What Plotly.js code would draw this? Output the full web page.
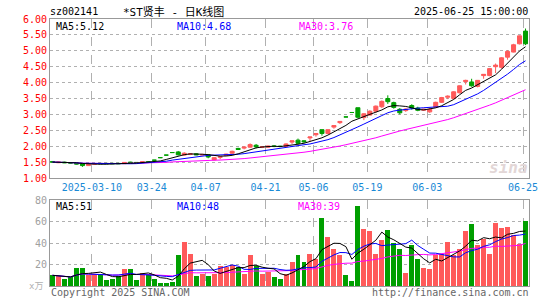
<!DOCTYPE html>
<html><head><meta charset="utf-8">
<script src="https://cdn.plot.ly/plotly-3.0.1.min.js"></script>
<style>html,body{margin:0;padding:0;background:#fff}</style>
</head><body><div id="chart" style="width:545px;height:300px"></div>
<script>
const dates = ['2025-02-27','2025-02-28','2025-03-03','2025-03-04','2025-03-05','2025-03-06','2025-03-07',
'2025-03-10','2025-03-11','2025-03-12','2025-03-13','2025-03-14','2025-03-17','2025-03-18','2025-03-19','2025-03-20','2025-03-21',
'2025-03-24','2025-03-25','2025-03-26','2025-03-27','2025-03-28','2025-03-31','2025-04-01','2025-04-02','2025-04-03',
'2025-04-07','2025-04-08','2025-04-09','2025-04-10','2025-04-11','2025-04-14','2025-04-15','2025-04-16','2025-04-17','2025-04-18',
'2025-04-21','2025-04-22','2025-04-23','2025-04-24','2025-04-25','2025-04-28','2025-04-29','2025-04-30',
'2025-05-06','2025-05-07','2025-05-08','2025-05-09','2025-05-12','2025-05-13','2025-05-14','2025-05-15','2025-05-16',
'2025-05-19','2025-05-20','2025-05-21','2025-05-22','2025-05-23','2025-05-26','2025-05-27','2025-05-28','2025-05-29','2025-05-30',
'2025-06-03','2025-06-04','2025-06-05','2025-06-06','2025-06-09','2025-06-10','2025-06-11','2025-06-12','2025-06-13',
'2025-06-16','2025-06-17','2025-06-18','2025-06-19','2025-06-20','2025-06-23','2025-06-24','2025-06-25'];

const openP = [1.52,1.48,1.50,1.48,1.47,1.45,1.39,1.43,1.46,1.46,
1.46,1.46,1.45,1.50,1.49,1.48,1.51,1.56,1.64,1.72,
1.80,1.82,1.72,1.74,1.76,1.72,1.73,1.57,1.65,1.71,
1.78,1.93,1.94,1.97,2.03,1.96,1.97,2.01,2.00,1.99,
2.13,2.19,2.17,2.26,2.36,2.52,2.40,2.60,2.74,2.92,
3.06,3.21,2.90,2.98,3.10,3.24,3.50,3.37,3.16,3.12,
3.28,3.20,3.13,3.08,3.23,3.38,3.54,3.50,3.68,4.03,
4.02,3.88,4.22,4.22,4.50,4.48,4.80,4.96,5.22,5.62];
const highP = [1.53,1.51,1.51,1.49,1.48,1.46,1.44,1.46,1.47,1.46,
1.47,1.47,1.50,1.51,1.49,1.53,1.52,1.56,1.64,1.72,
1.80,1.85,1.81,1.78,1.77,1.76,1.74,1.64,1.68,1.76,
1.86,1.95,1.98,2.09,2.07,2.00,2.02,2.03,2.02,2.09,
2.17,2.24,2.19,2.29,2.40,2.52,2.52,2.65,2.78,2.92,
3.06,3.21,3.04,3.13,3.28,3.44,3.60,3.40,3.20,3.19,
3.32,3.24,3.18,3.20,3.40,3.55,3.60,3.73,3.91,4.09,
4.12,4.08,4.27,4.46,4.60,4.80,5.02,5.22,5.48,5.70];
const lowP = [1.49,1.47,1.47,1.46,1.43,1.35,1.38,1.42,1.44,1.44,
1.44,1.44,1.45,1.47,1.47,1.47,1.48,1.56,1.64,1.72,
1.80,1.71,1.70,1.72,1.72,1.71,1.62,1.55,1.59,1.70,
1.76,1.88,1.90,1.95,1.93,1.94,1.95,1.97,1.97,1.98,
2.07,2.06,2.11,2.15,2.30,2.33,2.38,2.55,2.70,2.92,
3.06,2.88,2.82,2.96,3.05,3.20,3.33,3.18,3.00,3.08,
3.15,3.10,3.11,3.05,3.22,3.36,3.48,3.48,3.66,3.94,
3.87,3.85,4.12,4.20,4.30,4.44,4.72,4.95,5.20,5.18];
const closeP = [1.50,1.50,1.48,1.47,1.44,1.39,1.43,1.45,1.45,1.45,
1.45,1.45,1.49,1.48,1.48,1.51,1.49,1.56,1.64,1.72,
1.80,1.73,1.78,1.76,1.73,1.74,1.66,1.64,1.67,1.75,
1.84,1.90,1.97,2.05,1.98,1.98,2.00,1.99,1.99,2.07,
2.17,2.09,2.14,2.29,2.40,2.40,2.52,2.65,2.78,2.92,
3.06,2.91,3.02,3.10,3.26,3.41,3.40,3.22,3.05,3.17,
3.20,3.13,3.16,3.16,3.38,3.53,3.57,3.71,3.90,4.07,
3.90,4.07,4.26,4.44,4.55,4.78,4.98,5.19,5.47,5.22];
const volume = [10,9,7,8,17,17,10,11,10,6,
7,9,16,16,6,12,11,7,3,3,
4,29,41,30,9,11,9,11,19,18,
20,18,11,29,19,11,13,8,7,11,
22,29,22,30,25,64,46,35,29,10,
5,75,53,51,30,43,52,40,35,12,
38,25,17,16,29,30,41,29,35,51,
58,38,44,30,59,54,55,48,39,61];

const tickDates = ['2025-03-10','2025-03-24','2025-04-07','2025-04-21','2025-05-06','2025-05-19','2025-06-03','2025-06-25'];
const tickLabels = ['2025-03-10','03-24','04-07','04-21','05-06','05-19','06-03','06-25'];
const priceTicks = [1,1.5,2,2.5,3,3.5,4,4.5,5,5.5,6];
const volTicks = [20,40,60,80];

const RED = '#ff5a5a', GREEN = '#009f00';
const FONT = 'DejaVu Sans Mono, Noto Sans CJK SC, monospace';

const idx = dates.map((d, i) => i);
const isUp = idx.map(i => closeP[i] > openP[i]);
function ma(arr, n) {
  return arr.map((v, i) => {
    const s = Math.max(0, i - n + 1);
    let sum = 0;
    for (let k = s; k <= i; k++) sum += arr[k];
    return sum / (i - s + 1);
  });
}
function pick(arr, sel) { return idx.filter(i => sel(i)).map(i => arr[i]); }

function candle(sel, color) {
  return {
    type: 'candlestick', xaxis: 'x', yaxis: 'y',
    x: pick(idx, sel), open: pick(openP, sel), high: pick(highP, sel),
    low: pick(lowP, sel), close: pick(closeP, sel),
    whiskerwidth: 0,
    increasing: {line: {color: color, width: 1}, fillcolor: color},
    decreasing: {line: {color: color, width: 1}, fillcolor: color},
    hoverinfo: 'skip'
  };
}
function line(y, color, xa, ya) {
  return {type: 'scatter', mode: 'lines', x: idx, y: y, xaxis: xa, yaxis: ya,
    line: {color: color, width: 1}, hoverinfo: 'skip'};
}

const traces = [
  candle(i => isUp[i], RED),
  candle(i => !isUp[i], GREEN),
  line(ma(closeP, 30), '#ff00ff', 'x', 'y'),
  line(ma(closeP, 10), '#0000ff', 'x', 'y'),
  line(ma(closeP, 5), '#000000', 'x', 'y'),
  {type: 'bar', x: idx, y: volume, xaxis: 'x2', yaxis: 'y2', width: 0.83,
   marker: {color: idx.map(i => isUp[i] ? RED : GREEN), line: {width: 0}}, hoverinfo: 'skip'},
  line(ma(volume, 30), '#ff00ff', 'x2', 'y2'),
  line(ma(volume, 10), '#0000ff', 'x2', 'y2'),
  line(ma(volume, 5), '#000000', 'x2', 'y2')
];

const tickPos = tickDates.map(d => dates.indexOf(d) - 0.42);
const L = 50, R = 529, T = 18.5, B = 286;
const W = R - L, H = B - T;
const px = x => (x - L) / W, py = y => (B - y) / H;
const xr = [-0.42, 79.58];

function ann(text, x, y, xanchor, color, size, extra) {
  return Object.assign({text: text, x: px(x), y: py(y), xref: 'paper', yref: 'paper',
    xanchor: xanchor, yanchor: 'middle', showarrow: false,
    font: {family: FONT, size: size || 10, color: color}}, extra || {});
}

const layout = {
  width: 545, height: 300,
  margin: {l: L, r: 545 - R, t: T, b: 300 - B},
  paper_bgcolor: '#fff', plot_bgcolor: '#fff',
  showlegend: false, boxgap: 0.33, boxgroupgap: 0, bargap: 0,
  xaxis: {range: xr, anchor: 'y', tickvals: tickPos, ticktext: tickLabels,
    tickfont: {family: FONT, size: 10, color: '#1a8ad6'}, ticks: '',
    showgrid: true, gridcolor: '#b0b0b0', griddash: 'dash', gridwidth: 1,
    showline: true, linecolor: '#999', mirror: true, zeroline: false,
    rangeslider: {visible: false}, fixedrange: true},
  yaxis: {domain: [py(177.8), 1], range: [1, 6], tickvals: priceTicks,
    ticktext: priceTicks.map(v => v.toFixed(2)),
    tickfont: {family: FONT, size: 10, color: '#ff0000'}, ticks: '',
    showgrid: true, gridcolor: '#b0b0b0', griddash: 'dot', gridwidth: 1,
    showline: true, linecolor: '#999', mirror: true, zeroline: false, fixedrange: true},
  xaxis2: {range: xr, anchor: 'y2', tickvals: tickPos, showticklabels: false, ticks: '',
    showgrid: true, gridcolor: '#b0b0b0', griddash: 'dash', gridwidth: 1,
    showline: true, linecolor: '#999', mirror: true, zeroline: false, fixedrange: true},
  yaxis2: {domain: [0, py(200.3)], range: [0, 80], tickvals: volTicks,
    tickfont: {family: FONT, size: 10, color: '#a0a0a0'}, ticks: '',
    showgrid: true, gridcolor: '#b0b0b0', griddash: 'dot', gridwidth: 1,
    showline: true, linecolor: '#999', mirror: true, zeroline: false, fixedrange: true},
  annotations: [
    ann('sz002141', 48, 11, 'left', '#000', 10),
    ann('*ST贤丰 - 日K线图', 121, 11, 'left', '#000', 11),
    ann('2025-06-25 15:00:00', 530, 11, 'right', '#000', 10),
    ann('MA5:5.12', 54, 26, 'left', '#000', 10),
    ann('MA10:4.68', 175, 26, 'left', '#0000ff', 10),
    ann('MA30:3.76', 297, 26, 'left', '#ff00ff', 10),
    ann('MA5:51', 54, 206.5, 'left', '#000', 10),
    ann('MA10:48', 175, 206.5, 'left', '#0000ff', 10),
    ann('MA30:39', 296, 206.5, 'left', '#ff00ff', 10),
    ann('x万', 45, 286, 'right', '#b0b0b0', 9),
    ann('Copyright 2025 SINA.COM', 49, 293, 'left', '#666', 10),
    ann('http://finance.sina.com.cn', 531, 293, 'right', '#666', 10),
    ann('<b><i>sina</i></b>', 508, 167, 'center', '#e2d6d6', 16)
  ]
};

Plotly.newPlot('chart', traces, layout, {staticPlot: true, displayModeBar: false});
</script>
</body></html>
